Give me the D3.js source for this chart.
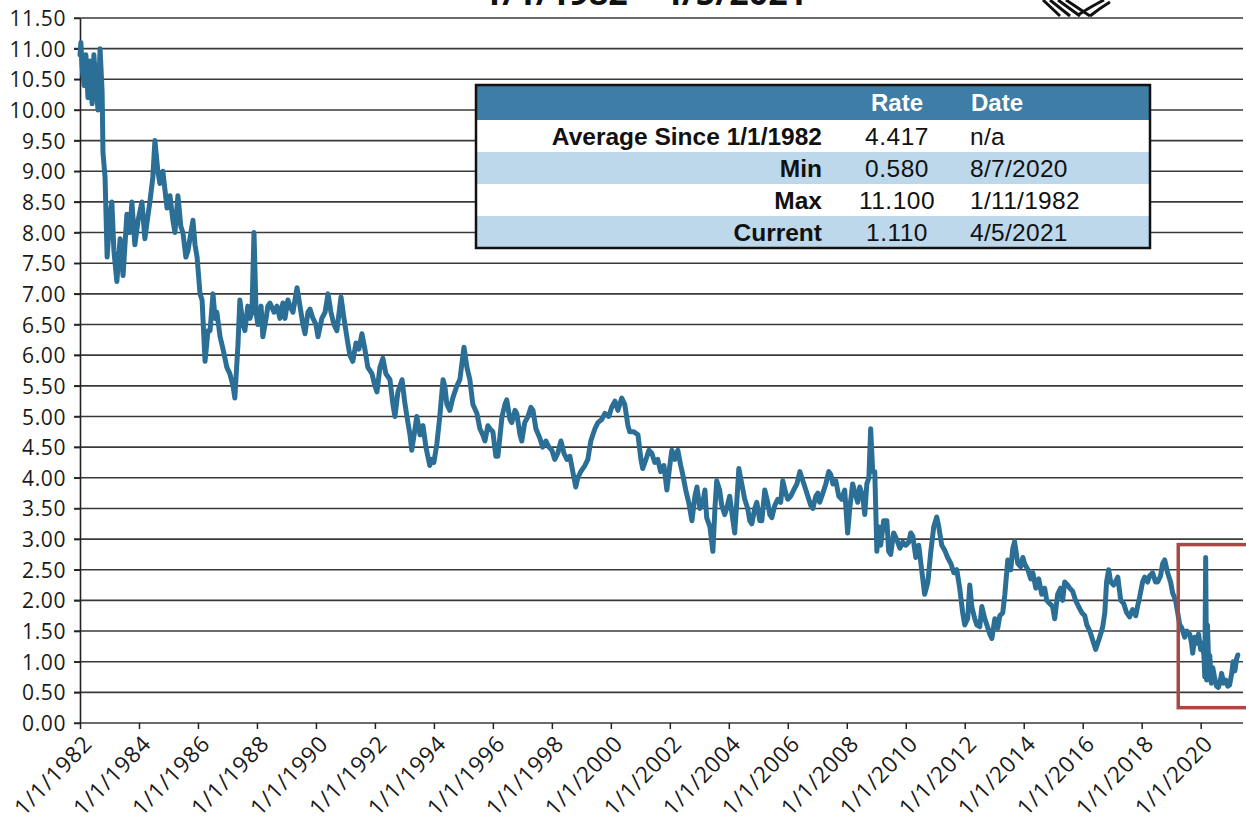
<!DOCTYPE html>
<html>
<head>
<meta charset="utf-8">
<script src="https://cdn.jsdelivr.net/npm/d3@7/dist/d3.min.js"></script>
<style>
  html, body { margin: 0; padding: 0; background: #ffffff; }
  svg { display: block; }
</style>
</head>
<body>
<svg id="chart" width="1246" height="833"></svg>
<script>
// ---------------- DATA ----------------
const titleText = "1/1/1982 \u2013 4/5/2021";

// decimal-year positions of the observations
const dates = [
  1982.00,1982.03,1982.07,1982.14,1982.20,1982.27,1982.34,1982.41,1982.47,1982.54,1982.61,1982.68,1982.75,1982.78,1982.85,1982.92,
  1983.02,1983.08,1983.15,1983.25,1983.36,1983.46,1983.59,1983.69,1983.76,1983.86,1983.97,
  1984.10,1984.20,1984.31,1984.37,1984.47,1984.54,1984.64,1984.71,1984.81,1984.95,
  1985.05,1985.15,1985.22,1985.32,1985.42,1985.49,1985.59,1985.66,1985.76,1985.83,1985.90,1985.97,
  1986.07,1986.14,1986.24,1986.34,1986.41,1986.51,1986.58,1986.64,1986.75,1986.85,1986.98,
  1987.08,1987.19,1987.25,1987.36,1987.42,1987.53,1987.59,1987.69,1987.76,1987.83,1987.90,1987.97,
  1988.03,1988.14,1988.20,1988.31,1988.37,1988.44,1988.58,1988.68,1988.78,1988.88,1988.95,
  1989.05,1989.12,1989.22,1989.36,1989.46,1989.56,1989.63,1989.73,1989.80,1989.90,
  1990.00,1990.07,1990.20,1990.31,1990.41,1990.51,1990.61,1990.71,1990.85,1990.95,
  1991.08,1991.15,1991.25,1991.36,1991.46,1991.56,1991.66,1991.76,1991.90,
  1992.00,1992.07,1992.17,1992.27,1992.37,1992.51,1992.61,1992.68,1992.78,1992.92,
  1993.02,1993.12,1993.19,1993.25,1993.36,1993.42,1993.53,1993.63,1993.73,1993.86,1993.93,
  1994.00,1994.10,1994.20,1994.31,1994.37,1994.44,1994.54,1994.64,1994.78,1994.88,
  1995.02,1995.12,1995.22,1995.32,1995.46,1995.56,1995.66,1995.73,1995.83,1995.90,
  1996.00,1996.10,1996.17,1996.31,1996.41,1996.47,1996.58,1996.64,1996.75,1996.81,1996.92,1996.98,
  1997.08,1997.19,1997.29,1997.36,1997.46,1997.59,1997.69,1997.80,1997.90,
  1998.00,1998.10,1998.20,1998.31,1998.41,1998.51,1998.61,1998.71,1998.81,1998.88,1998.98,
  1999.12,1999.22,1999.32,1999.46,1999.56,1999.69,1999.80,1999.93,
  2000.03,2000.14,2000.24,2000.37,2000.47,2000.58,2000.64,2000.78,2000.92,
  2001.02,2001.08,2001.19,2001.29,2001.39,2001.49,2001.59,2001.69,2001.80,2001.90,
  2002.00,2002.07,2002.17,2002.27,2002.37,2002.44,2002.54,2002.64,2002.75,2002.85,2002.92,
  2003.02,2003.12,2003.19,2003.25,2003.36,2003.46,2003.53,2003.59,2003.69,2003.76,2003.86,2003.93,
  2004.03,2004.14,2004.20,2004.27,2004.34,2004.44,2004.54,2004.64,2004.71,2004.78,2004.88,2004.95,
  2005.05,2005.12,2005.22,2005.32,2005.39,2005.46,2005.56,2005.66,2005.76,2005.83,2005.93,
  2006.00,2006.10,2006.20,2006.31,2006.41,2006.51,2006.58,2006.68,2006.78,2006.85,2006.95,
  2007.02,2007.08,2007.19,2007.29,2007.39,2007.46,2007.53,2007.63,2007.73,2007.83,2007.93,
  2008.03,2008.10,2008.20,2008.31,2008.37,2008.44,2008.54,2008.61,2008.68,2008.75,2008.81,2008.88,2008.95,
  2009.02,2009.08,2009.15,2009.25,2009.36,2009.42,2009.49,2009.59,2009.69,2009.80,2009.90,
  2010.00,2010.10,2010.17,2010.24,2010.34,2010.44,2010.54,2010.64,2010.75,2010.85,2010.95,
  2011.05,2011.12,2011.22,2011.32,2011.42,2011.53,2011.63,2011.73,2011.83,2011.93,
  2012.00,2012.10,2012.17,2012.24,2012.34,2012.41,2012.51,2012.58,2012.68,2012.75,2012.85,2012.92,
  2013.02,2013.12,2013.19,2013.29,2013.36,2013.46,2013.56,2013.63,2013.69,2013.80,2013.90,2013.97,
  2014.03,2014.14,2014.24,2014.31,2014.41,2014.51,2014.61,2014.71,2014.78,2014.88,2014.98,
  2015.05,2015.15,2015.25,2015.32,2015.39,2015.49,2015.56,2015.66,2015.76,2015.86,2015.97,
  2016.07,2016.14,2016.24,2016.34,2016.44,2016.51,2016.61,2016.68,2016.75,2016.81,2016.88,2016.95,
  2017.05,2017.19,2017.29,2017.39,2017.49,2017.59,2017.69,2017.80,2017.86,2017.93,
  2018.03,2018.10,2018.20,2018.27,2018.37,2018.47,2018.54,2018.64,2018.71,2018.78,2018.88,2018.98,
  2019.05,2019.15,2019.22,2019.29,2019.36,2019.46,2019.53,2019.63,2019.69,2019.73,2019.80,2019.86,2019.93,
  2020.00,2020.06,2020.11,2020.14,2020.17,2020.20,2020.23,2020.27,2020.31,2020.36,2020.41,2020.47,2020.54,2020.60,2020.65,2020.71,2020.78,2020.85,2020.92,2020.98,2021.05,2021.10,2021.16,2021.22,2021.26
];

// rate values (%), same order as dates
const rates = [
  10.9,11.1,10.7,10.4,10.9,10.2,10.8,10.1,10.9,10.4,10.0,11.0,10.3,9.3,8.9,7.6,
  8.3,8.5,7.7,7.2,7.9,7.3,8.3,8.0,8.5,7.8,8.2,
  8.5,7.9,8.3,8.5,8.9,9.5,9.0,8.8,9.0,8.4,
  8.6,8.2,8.0,8.6,8.1,8.0,7.6,7.7,8.0,8.2,7.8,7.6,
  7.0,6.9,5.9,6.4,6.4,7.0,6.6,6.7,6.3,6.1,5.8,
  5.7,5.5,5.3,6.2,6.9,6.5,6.4,6.8,6.6,6.7,8.0,6.7,
  6.5,6.8,6.3,6.6,6.8,6.85,6.7,6.8,6.6,6.85,6.6,
  6.9,6.8,6.7,7.1,6.8,6.5,6.35,6.7,6.75,6.6,
  6.5,6.3,6.6,6.7,7.0,6.7,6.5,6.4,6.95,6.6,
  6.2,6.0,5.9,6.2,6.1,6.35,6.1,5.8,5.7,
  5.5,5.4,5.8,5.95,5.7,5.6,5.2,5.0,5.4,5.6,
  5.2,4.9,4.7,4.45,4.8,5.0,4.7,4.85,4.5,4.2,4.3,
  4.25,4.55,5.0,5.6,5.5,5.2,5.1,5.3,5.5,5.6,
  6.13,5.8,5.6,5.2,5.05,4.8,4.7,4.6,4.85,4.8,
  4.75,4.35,4.35,5.0,5.2,5.27,4.95,4.9,5.1,5.05,4.7,4.6,
  4.9,5.0,5.15,5.1,4.8,4.65,4.5,4.6,4.5,
  4.45,4.3,4.4,4.6,4.4,4.3,4.35,4.1,3.85,4.0,4.1,
  4.2,4.3,4.6,4.8,4.9,4.95,5.05,5.0,
  5.15,5.25,5.1,5.3,5.2,4.85,4.75,4.75,4.7,
  4.3,4.15,4.3,4.45,4.4,4.25,4.3,4.1,4.2,3.8,
  4.2,4.45,4.3,4.45,4.2,4.05,3.8,3.6,3.3,3.7,3.85,
  3.5,3.6,3.8,3.35,3.2,2.8,3.5,3.95,3.8,3.55,3.4,3.5,
  3.7,3.3,3.1,3.6,4.15,3.9,3.65,3.5,3.3,3.25,3.5,3.6,
  3.3,3.3,3.8,3.6,3.4,3.35,3.55,3.65,3.6,3.95,3.75,
  3.65,3.7,3.8,3.9,4.1,3.95,3.85,3.7,3.55,3.5,3.7,
  3.75,3.6,3.75,3.9,4.1,4.05,3.9,3.95,3.7,3.65,3.8,
  3.1,3.5,3.9,3.7,3.6,3.85,3.7,3.4,3.9,4.0,4.8,4.1,4.1,
  2.8,3.2,2.9,3.3,3.3,2.8,2.75,3.1,3.0,2.85,2.95,
  2.9,2.95,3.1,3.05,2.7,2.9,2.5,2.1,2.3,2.8,3.2,
  3.36,3.2,2.9,2.82,2.7,2.6,2.45,2.5,2.2,1.8,
  1.6,1.7,2.25,1.9,1.7,1.6,1.57,1.9,1.7,1.6,1.45,1.38,
  1.7,1.55,1.75,1.8,2.1,2.66,2.5,2.85,2.96,2.6,2.55,2.7,
  2.6,2.5,2.35,2.45,2.2,2.35,2.1,2.2,2.0,1.95,1.9,
  1.7,2.1,2.2,2.0,2.3,2.25,2.2,2.15,2.0,1.9,1.8,
  1.75,1.6,1.5,1.35,1.2,1.3,1.45,1.57,1.8,2.3,2.5,2.3,
  2.25,2.38,2.0,1.95,1.8,1.73,1.85,1.75,1.9,2.05,
  2.3,2.38,2.3,2.4,2.45,2.3,2.3,2.4,2.6,2.66,2.45,2.3,
  2.12,2.0,1.8,1.6,1.55,1.4,1.5,1.45,1.3,1.14,1.4,1.3,1.45,
  1.2,1.3,1.1,0.75,2.7,0.7,1.6,1.0,1.1,0.65,0.9,0.75,0.6,0.58,0.65,0.81,0.65,0.7,0.6,0.62,0.8,1.0,0.85,1.05,1.11
];

// y-axis tick values and x-axis tick years
const yTicks = d3.range(0, 11.5001, 0.5);
const xTickYears = d3.range(1982, 2021, 2);

// summary table
const tableHeader = ["", "Rate", "Date"];
const tableLabels = ["Average Since 1/1/1982", "Min", "Max", "Current"];
const tableRates  = ["4.417", "0.580", "11.100", "1.110"];
const tableDates  = ["n/a", "8/7/2020", "1/11/1982", "4/5/2021"];

// highlighted period (red box)
const highlightYears = [2019.24, 2021.6];
const highlightRates = [0.25, 2.91];

// ---------------- DRAW ----------------
const svg = d3.select("#chart");
const margin = { left: 80, top: 18, right: 1239, bottom: 723 };

const x = d3.scaleLinear().domain([1982, 2021.3]).range([margin.left, margin.right]);
const y = d3.scaleLinear().domain([0, 11.5]).range([margin.bottom, margin.top]);

const series = dates.map((d, i) => ({ t: d, v: rates[i] }));

// title (mostly cut off at top, as in the source)
svg.append("text")
  .attr("x", 645).attr("y", 5)
  .attr("text-anchor", "middle")
  .attr("font-family", "Open Sans, sans-serif")
  .attr("font-weight", "bold")
  .attr("font-size", 34)
  .attr("fill", "#111")
  .text(titleText);

// logo stripes at top right
const logo = svg.append("g").attr("stroke", "#111").attr("stroke-width", 3).attr("fill", "none");
[[1043, 1060], [1050, 1070], [1058, 1080], [1066, 1090]].forEach(([x0, x1]) => {
  logo.append("line").attr("x1", x0).attr("y1", 0).attr("x2", x1).attr("y2", 16);
});
logo.append("path").attr("d", "M1078,15 Q1092,6 1104,0");
logo.append("path").attr("d", "M1090,16 Q1100,8 1110,2");

// grid lines
svg.append("g")
  .selectAll("line")
  .data(yTicks)
  .join("line")
  .attr("x1", margin.left - 6)
  .attr("x2", 1243)
  .attr("y1", d => y(d))
  .attr("y2", d => y(d))
  .attr("stroke", "#3a3a3a")
  .attr("stroke-width", 1.6);

// y axis
const yAxis = d3.axisLeft(y).tickValues(yTicks).tickFormat(d3.format(".2f")).tickSize(6).tickSizeOuter(0);
const gy = svg.append("g").attr("transform", `translate(${margin.left},0)`).call(yAxis);
gy.select(".domain").attr("stroke", "#222").attr("stroke-width", 1.6);
gy.selectAll(".tick line").attr("stroke", "#222").attr("stroke-width", 1.5);
gy.selectAll(".tick text")
  .attr("x", -14)
  .attr("dy", "0.36em")
  .attr("font-family", "Open Sans, sans-serif")
  .attr("font-size", 21)
  .attr("letter-spacing", 0.6)
  .attr("fill", "#1a1a1a");

// x axis
const xAxis = d3.axisBottom(x).tickValues(xTickYears).tickFormat(d => "1/1/" + d).tickSize(6).tickSizeOuter(0);
const gx = svg.append("g").attr("transform", `translate(0,${margin.bottom})`).call(xAxis);
gx.select(".domain").remove();
gx.selectAll(".tick line").attr("stroke", "#222").attr("stroke-width", 1.5);
gx.selectAll(".tick text")
  .attr("font-family", "Open Sans, sans-serif")
  .attr("font-size", 22.5)
  .attr("letter-spacing", 0.8)
  .attr("fill", "#1a1a1a")
  .attr("text-anchor", "end")
  .attr("dy", 0)
  .attr("y", 0)
  .attr("transform", "translate(13,22) rotate(-46)");

// summary table
const tb = { x0: 476, x1: 1150, y0: 85, header: 35, row: 32 };
const font = "Liberation Sans, Arial, sans-serif";
const tg = svg.append("g");
tg.append("rect")
  .attr("x", tb.x0).attr("y", tb.y0)
  .attr("width", tb.x1 - tb.x0).attr("height", tb.header)
  .attr("fill", "#3d7da6");
tableLabels.forEach((lab, i) => {
  const ry = tb.y0 + tb.header + i * tb.row;
  tg.append("rect")
    .attr("x", tb.x0).attr("y", ry)
    .attr("width", tb.x1 - tb.x0).attr("height", tb.row)
    .attr("fill", i % 2 === 1 ? "#bcd8ea" : "#ffffff");
  const base = ry + tb.row / 2 + 9;
  tg.append("text").attr("x", 822).attr("y", base).attr("text-anchor", "end")
    .attr("font-family", font).attr("font-weight", "bold")
    .attr("font-size", 24.5).attr("fill", "#111").text(lab);
  tg.append("text").attr("x", 897).attr("y", base).attr("text-anchor", "middle")
    .attr("font-family", font).attr("letter-spacing", 0.5)
    .attr("font-size", 24.5).attr("fill", "#111").text(tableRates[i]);
  tg.append("text").attr("x", 970).attr("y", base).attr("text-anchor", "start")
    .attr("font-family", font).attr("letter-spacing", 0.3)
    .attr("font-size", 24.5).attr("fill", "#111").text(tableDates[i]);
});
tg.append("text").attr("x", 897).attr("y", tb.y0 + 26).attr("text-anchor", "middle")
  .attr("font-family", font).attr("font-weight", "bold")
  .attr("font-size", 24).attr("fill", "#ffffff").text(tableHeader[1]);
tg.append("text").attr("x", 971).attr("y", tb.y0 + 26).attr("text-anchor", "start")
  .attr("font-family", font).attr("font-weight", "bold")
  .attr("font-size", 24).attr("fill", "#ffffff").text(tableHeader[2]);
tg.append("rect")
  .attr("x", tb.x0).attr("y", tb.y0)
  .attr("width", tb.x1 - tb.x0).attr("height", tb.header + tableLabels.length * tb.row)
  .attr("fill", "none").attr("stroke", "#111").attr("stroke-width", 2.5);

// rate line
const line = d3.line().x(d => x(d.t)).y(d => y(d.v)).curve(d3.curveLinear);
svg.append("path")
  .datum(series)
  .attr("fill", "none")
  .attr("stroke", "#2b6f96")
  .attr("stroke-width", 5)
  .attr("stroke-linejoin", "round")
  .attr("stroke-linecap", "round")
  .attr("d", line);

// highlight box
svg.append("rect")
  .attr("x", x(highlightYears[0]))
  .attr("y", y(highlightRates[1]))
  .attr("width", x(highlightYears[1]) - x(highlightYears[0]))
  .attr("height", y(highlightRates[0]) - y(highlightRates[1]))
  .attr("fill", "none")
  .attr("stroke", "#a84a43")
  .attr("stroke-width", 3.5);
</script>
</body>
</html>
